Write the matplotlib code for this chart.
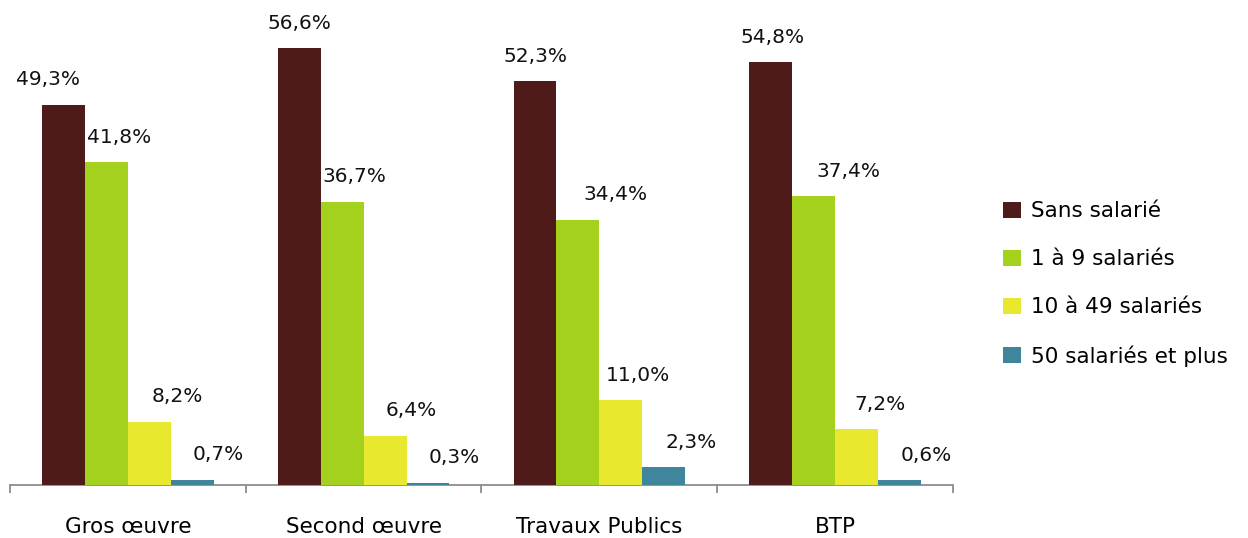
import numpy as np
from matplotlib import pyplot as plt

categories = ['Gros œuvre', 'Second œuvre', 'Travaux Publics', 'BTP']
series_names = ['Sans salarié', '1 à 9 salariés', '10 à 49 salariés', '50 salariés et plus']
values = [
    [49.3, 56.6, 52.3, 54.8],
    [41.8, 36.7, 34.4, 37.4],
    [8.2, 6.4, 11.0, 7.2],
    [0.7, 0.3, 2.3, 0.6],
]
colors = ['#4F1A1A', '#A3D11E', '#E8E82E', '#3F859C']

# horizontal shift of each data label (points), as placed in the original
label_dx = [
    [-11, 0, 0, 1],
    [9, 9, 27, 25],
    [20, 19, 12, 17],
    [19, 19, 20, 19],
]

plt.rcParams['font.family'] = ['DejaVu Sans']
fig = plt.figure(figsize=(12.48, 5.38), dpi=100)
ax = fig.add_axes([10 / 1248, 53 / 538, 943 / 1248, 463 / 538])

x = np.arange(len(categories))
w = 0.182
for j, name in enumerate(series_names):
    pos = x + (j - 1.5) * w
    ax.bar(pos, values[j], width=w, color=colors[j], label=name, zorder=3)
    for i, v in enumerate(values[j]):
        ax.annotate(f'{v:.1f}%'.replace('.', ','), (pos[i], v),
                    xytext=(label_dx[j][i], 18), textcoords='offset points',
                    ha='center', va='center', fontsize=14.5, color='#111111',
                    annotation_clip=False)

ax.set_xlim(-0.5, len(categories) - 0.5)
ax.set_ylim(0, 60)
for side in ['top', 'right', 'left']:
    ax.spines[side].set_visible(False)
ax.spines['bottom'].set_color('#8C8C8C')
ax.spines['bottom'].set_linewidth(1.3)
ax.set_yticks([])
ax.set_xticks(x)
ax.set_xticklabels(categories, fontsize=15.5)
ax.tick_params(axis='x', which='major', length=0, pad=23)
ax.set_xticks(np.arange(len(categories) + 1) - 0.5, minor=True)
ax.tick_params(axis='x', which='minor', length=6, width=1.3, color='#8C8C8C', direction='out')

fig.legend(loc='center left', bbox_to_anchor=(984 / 1248, 254 / 538), frameon=False,
           fontsize=15.5, handlelength=0.8, handleheight=0.8, handletextpad=0.5,
           labelspacing=1.3)

plt.savefig('out.png', dpi=100)
